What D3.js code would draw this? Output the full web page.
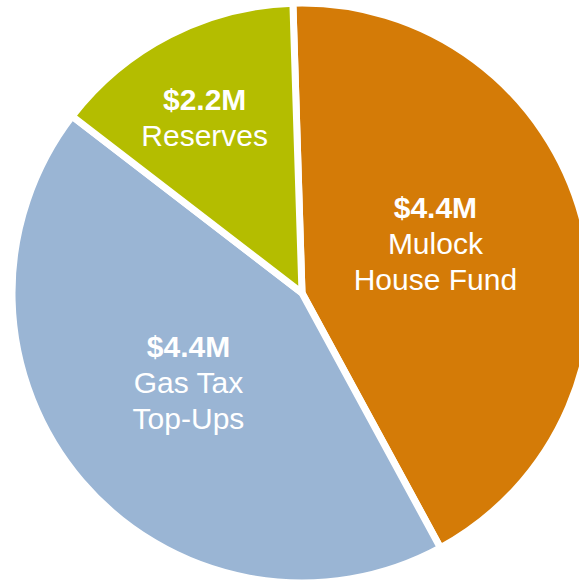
<!DOCTYPE html>
<html>
<head>
<meta charset="utf-8">
<script src="https://cdn.jsdelivr.net/npm/d3@7"></script>
<style>
  html, body { margin: 0; padding: 0; background: #ffffff; }
  svg { display: block; }
</style>
</head>
<body>
<svg id="chart" width="579" height="584"></svg>
<script>
// ---- data ----
const categories = ["Mulock House Fund", "Gas Tax Top-Ups", "Reserves"];
const sliceValues = [4.36, 4.44, 1.44];           // relative slice sizes as drawn
const amountLabels = ["$4.4M", "$4.4M", "$2.2M"];
const nameLines = [["Mulock", "House Fund"], ["Gas Tax", "Top-Ups"], ["Reserves"]];
const colors = ["#D47B07", "#9AB5D4", "#B4BD00"];

// ---- layout ----
const width = 579, height = 584;
const cx = 302, cy = 293, radius = 290;
const startDeg = -1.8;
const labelRadiusFactor = [0.49, 0.5, 0.69];
const labelAngleShiftDeg = [-5, 2, -2];

const svg = d3.select("#chart");
const g = svg.append("g").attr("transform", `translate(${cx},${cy})`);

const pie = d3.pie()
  .sort(null)
  .value(d => d.value)
  .startAngle(startDeg * Math.PI / 180)
  .endAngle(startDeg * Math.PI / 180 + 2 * Math.PI);

const data = categories.map((c, i) => ({
  name: c, value: sliceValues[i], amount: amountLabels[i],
  lines: nameLines[i], color: colors[i], idx: i
}));

const arcs = pie(data);
const arc = d3.arc().innerRadius(0).outerRadius(radius);

g.selectAll("path.slice")
  .data(arcs)
  .enter().append("path")
  .attr("class", "slice")
  .attr("d", arc)
  .attr("fill", d => d.data.color)
  .attr("stroke", "#ffffff")
  .attr("stroke-width", 7)
  .attr("stroke-linejoin", "miter");

function labelPos(d) {
  const i = d.data.idx;
  const mid = (d.startAngle + d.endAngle) / 2 + labelAngleShiftDeg[i] * Math.PI / 180;
  const r = radius * labelRadiusFactor[i];
  return [r * Math.sin(mid), -r * Math.cos(mid)];
}

const lineH = 36;
const labels = g.selectAll("g.label")
  .data(arcs)
  .enter().append("g")
  .attr("class", "label")
  .attr("transform", d => { const p = labelPos(d); return `translate(${p[0]},${p[1]})`; });

labels.each(function(d) {
  const sel = d3.select(this);
  const n = 1 + d.data.lines.length;
  const firstBaseline = -((n - 1) * lineH) / 2 + 10;
  const t = sel.append("text")
    .attr("text-anchor", "middle")
    .attr("fill", "#ffffff")
    .style("font-family", "'Liberation Sans', Arial, Helvetica, sans-serif");
  t.append("tspan")
    .attr("x", 0).attr("y", firstBaseline)
    .style("font-weight", "bold").style("font-size", "30px")
    .text(d.data.amount);
  d.data.lines.forEach((ln, i) => {
    t.append("tspan")
      .attr("x", 0).attr("y", firstBaseline + (i + 1) * lineH)
      .style("font-size", "30px")
      .text(ln);
  });
});
</script>
</body>
</html>
